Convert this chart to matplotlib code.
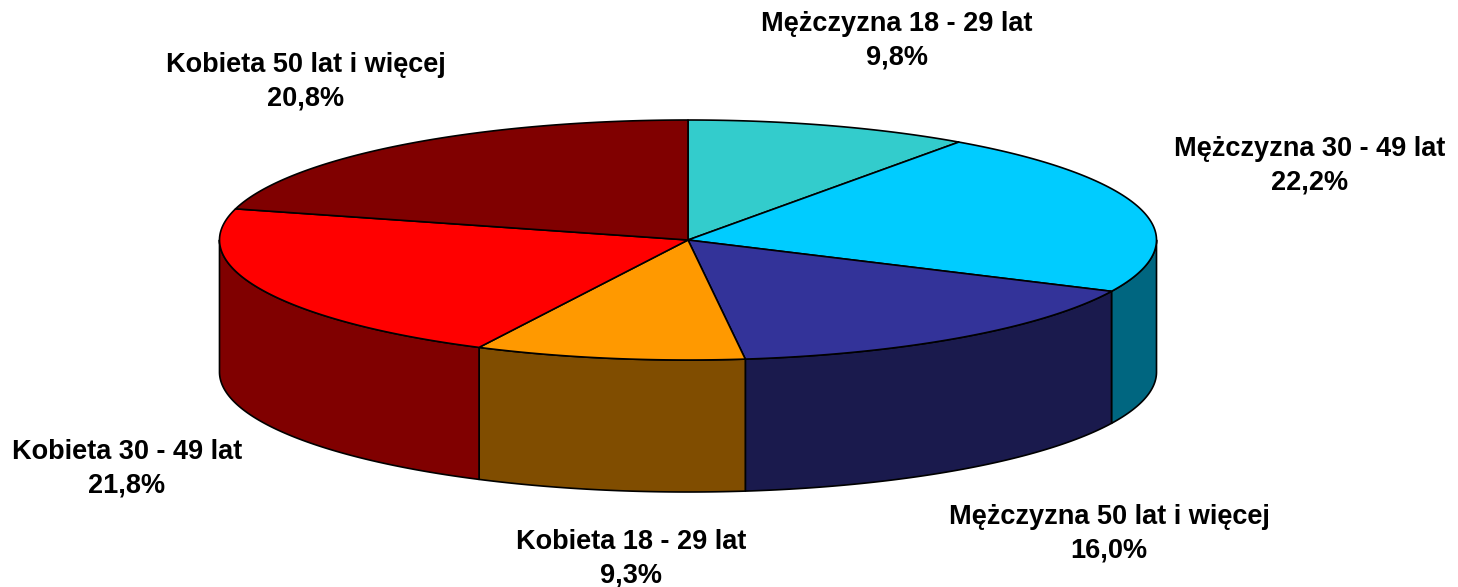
import numpy as np
import matplotlib
matplotlib.use("Agg")
import matplotlib.pyplot as plt
from matplotlib.patches import Polygon

plt.rcParams["font.family"] = ["Liberation Sans", "DejaVu Sans"]

labels = ["Mężczyzna 18 - 29 lat", "Mężczyzna 30 - 49 lat", "Mężczyzna 50 lat i więcej",
          "Kobieta 18 - 29 lat", "Kobieta 30 - 49 lat", "Kobieta 50 lat i więcej"]
values = [9.8, 22.2, 16.0, 9.3, 21.8, 20.8]
top_colors = ["#33CCCC", "#00CCFF", "#333399", "#FF9900", "#FF0000", "#800000"]
side_colors = ["#1A6666", "#006680", "#1A1A4D", "#804D00", "#800000", "#400000"]

# pie geometry in image pixels
CX, CY = 688, 240
RX, RY = 468.5, 120
DEPTH = 132
label_xy = [(897, 41), (1310, 166), (1109, 534), (631, 559), (127, 469), (306, 82)]


def rim(t):
    t = np.radians(t)
    return CX + RX * np.sin(t), CY - RY * np.cos(t)


fig = plt.figure(figsize=(14.58, 5.87), dpi=100)
ax = fig.add_axes([0, 0, 1, 1])
ax.set_xlim(0, 1458)
ax.set_ylim(587, 0)
ax.axis("off")

angles = np.cumsum([0] + values) / sum(values) * 360

# side wall first, only the front half of the rim shows
for i in range(len(values)):
    a0, a1 = max(angles[i], 90), min(angles[i + 1], 270)
    if a1 <= a0:
        continue
    t = np.linspace(a0, a1, 200)
    x, y = rim(t)
    xy = np.r_[np.c_[x, y], np.c_[x[::-1], y[::-1] + DEPTH]]
    ax.add_patch(Polygon(xy, closed=True, fc=side_colors[i], ec="black", lw=1.2, joinstyle="round"))

for i in range(len(values)):
    t = np.linspace(angles[i], angles[i + 1], 200)
    x, y = rim(t)
    xy = np.r_[[[CX, CY]], np.c_[x, y]]
    ax.add_patch(Polygon(xy, closed=True, fc=top_colors[i], ec="black", lw=1.2, joinstyle="round"))

for name, v, (lx, ly) in zip(labels, values, label_xy):
    txt = f"{name}\n{v:.1f}%".replace(".", ",")
    ax.text(lx, ly, txt, ha="center", va="center", fontsize=19.5, fontweight="bold",
            color="black", linespacing=1.38)

fig.savefig("out.png", dpi=100)
